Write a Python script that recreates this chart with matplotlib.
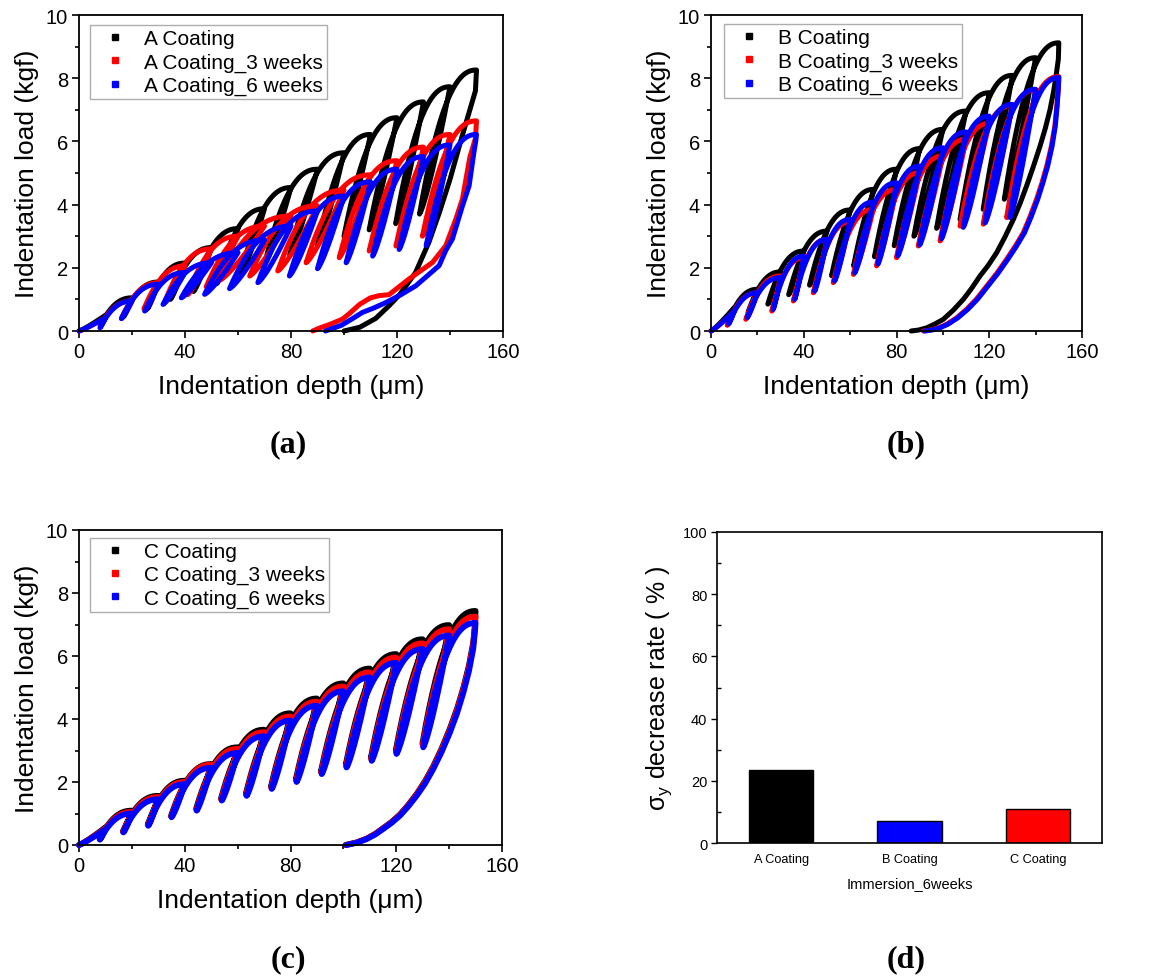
import numpy as np
import matplotlib
matplotlib.use("Agg")
import matplotlib.pyplot as plt
from matplotlib.lines import Line2D
from matplotlib.ticker import MultipleLocator

plt.rcParams['font.family'] = ['Liberation Sans', 'DejaVu Sans']

# ---------------- data ----------------
PEAK_DEPTH = [10, 20, 30, 40, 50, 60, 70, 80, 90, 100, 110, 120, 130, 140, 150]

# Panel (a)
A0_PEAK = [0.50, 1.05, 1.55, 2.15, 2.64, 3.24, 3.87, 4.54, 5.12, 5.64, 6.22, 6.75, 7.25, 7.73, 8.26]
A0_BOT_H = [8.2, 16.8, 25.8, 34.5, 43.2, 52.0, 61.0, 70.0, 79.5, 90.0, 100.0, 109.5, 119.5, 128.5]
A0_BOT_P = [0.20, 0.45, 0.70, 1.00, 1.25, 1.50, 1.80, 2.10, 2.40, 2.70, 3.00, 3.20, 3.40, 3.70]
A0_FIN_H = [150, 149.6, 147.5, 144.0, 140.0, 136.0, 132.0, 127.0, 121.0, 117.0, 112.0, 106.0, 100.0]
A0_FIN_P = [8.26, 7.60, 7.00, 6.00, 4.80, 3.75, 2.80, 1.85, 1.15, 0.80, 0.40, 0.12, 0.0]

A3_PEAK = [0.42, 0.95, 1.53, 2.06, 2.60, 3.00, 3.32, 3.64, 3.96, 4.46, 4.94, 5.39, 5.82, 6.22, 6.65]
A3_BOT_H = [8.0, 16.0, 24.5, 32.5, 41.0, 48.0, 53.0, 64.4, 75.0, 85.7, 98.2, 109.5, 119.6, 129.6]
A3_BOT_P = [0.18, 0.40, 0.70, 0.95, 1.15, 1.40, 1.60, 1.74, 1.90, 2.16, 2.32, 2.53, 2.69, 3.00]
A3_FIN_H = [150, 149.6, 147.5, 144.7, 142.2, 138.4, 133.4, 128.0, 124.6, 120.0, 117.0, 113.3, 110.0, 106.0, 102.0, 99.5, 95.0, 91.0, 88.2]
A3_FIN_P = [6.65, 6.10, 5.50, 4.18, 3.54, 2.70, 2.17, 1.85, 1.65, 1.35, 1.15, 1.12, 1.05, 0.85, 0.55, 0.38, 0.22, 0.10, 0.0]

A6_PEAK = [0.42, 0.95, 1.48, 1.85, 2.16, 2.48, 2.88, 3.32, 3.80, 4.27, 4.72, 5.12, 5.52, 5.89, 6.22]
A6_BOT_H = [7.9, 16.0, 24.8, 31.7, 38.6, 47.4, 56.8, 67.5, 79.4, 90.0, 100.8, 110.8, 120.8, 131.0]
A6_BOT_P = [0.10, 0.39, 0.63, 0.84, 1.05, 1.16, 1.34, 1.53, 1.74, 1.97, 2.16, 2.37, 2.58, 2.70]
A6_FIN_H = [150, 149.7, 149.0, 147.2, 144.7, 140.9, 138.4, 135.9, 131.5, 127.1, 121.5, 115.8, 111.0, 107.0, 103.0, 99.0, 93.0]
A6_FIN_P = [6.22, 6.00, 5.64, 4.59, 3.96, 2.91, 2.55, 2.07, 1.75, 1.43, 1.15, 0.90, 0.72, 0.59, 0.38, 0.18, 0.0]

# Panel (b)
B0_PEAK = [0.74, 1.32, 1.87, 2.53, 3.16, 3.83, 4.48, 5.12, 5.77, 6.38, 6.96, 7.54, 8.09, 8.65, 9.12]
B0_BOT_H = [7.5, 16.0, 24.5, 33.5, 42.5, 52.0, 61.5, 70.5, 79.0, 87.5, 97.3, 107.4, 117.4, 126.5]
B0_BOT_P = [0.30, 0.60, 0.85, 1.15, 1.45, 1.75, 2.06, 2.35, 2.70, 3.00, 3.25, 3.53, 3.85, 4.17]
B0_FIN_H = [150, 149.8, 149.0, 147.8, 146.2, 144.2, 141.9, 139.0, 136.1, 133.3, 130.4, 126.8, 123.2, 119.6, 116.0, 112.4, 108.8, 104.5, 100.2, 96.5, 93.0, 89.5, 86.3]
B0_FIN_P = [9.12, 8.60, 8.17, 7.60, 7.00, 6.42, 5.85, 5.20, 4.59, 4.04, 3.53, 2.98, 2.48, 2.08, 1.74, 1.35, 1.00, 0.66, 0.37, 0.22, 0.10, 0.03, 0.0]

B3_PEAK = [0.63, 1.21, 1.74, 2.32, 2.90, 3.45, 3.85, 4.48, 5.01, 5.54, 6.07, 6.57, 7.14, 7.63, 8.05]
B3_BOT_H = [7.0, 15.0, 26.2, 35.5, 44.1, 52.7, 61.4, 71.4, 80.0, 89.4, 98.8, 107.4, 117.4, 127.5]
B3_BOT_P = [0.18, 0.37, 0.63, 0.95, 1.21, 1.53, 1.79, 2.06, 2.32, 2.69, 2.85, 3.32, 3.38, 3.59]
B3_FIN_H = [150, 149.8, 149.2, 148.3, 146.8, 144.8, 142.7, 140.4, 137.6, 134.7, 131.2, 127.5, 123.2, 118.9, 114.6, 110.3, 106.0, 101.6, 98.5, 96.0, 93.8, 91.6]
B3_FIN_P = [8.05, 7.70, 7.15, 6.49, 5.85, 5.22, 4.68, 4.17, 3.62, 3.11, 2.68, 2.27, 1.82, 1.42, 1.02, 0.69, 0.42, 0.21, 0.11, 0.05, 0.02, 0.0]

B6_PEAK = [0.63, 1.21, 1.69, 2.37, 2.90, 3.53, 4.08, 4.69, 5.22, 5.80, 6.30, 6.80, 7.17, 7.65, 8.02]
B6_BOT_H = [7.6, 15.6, 26.8, 36.1, 44.7, 53.3, 62.0, 72.0, 80.6, 90.0, 99.4, 108.8, 118.2, 128.9]
B6_BOT_P = [0.22, 0.42, 0.68, 1.00, 1.26, 1.58, 1.84, 2.12, 2.38, 2.72, 2.92, 3.28, 3.42, 3.59]
B6_FIN_H = [150, 149.8, 149.3, 148.5, 147.1, 145.2, 143.1, 140.9, 138.1, 135.2, 131.7, 128.0, 123.7, 119.4, 115.1, 110.8, 106.5, 102.1, 99.0, 96.5, 94.3, 92.1]
B6_FIN_P = [8.02, 7.70, 7.15, 6.49, 5.85, 5.22, 4.68, 4.17, 3.62, 3.11, 2.68, 2.27, 1.82, 1.42, 1.02, 0.69, 0.42, 0.21, 0.11, 0.05, 0.02, 0.0]

# Panel (c)
C0_PEAK = [0.56, 1.09, 1.56, 2.04, 2.57, 3.10, 3.66, 4.18, 4.65, 5.13, 5.60, 6.06, 6.53, 6.98, 7.43]
C0_BOT_H = [7.8, 16.6, 26.0, 34.8, 44.3, 53.7, 63.1, 72.6, 82.0, 91.5, 100.9, 110.4, 119.8, 129.9]
C0_BOT_P = [0.19, 0.43, 0.65, 0.92, 1.15, 1.47, 1.62, 1.85, 2.08, 2.33, 2.55, 2.77, 2.99, 3.22]
C0_FIN_H = [150, 149.8, 149.1, 147.5, 145.4, 143.0, 140.3, 137.2, 134.0, 130.9, 127.7, 124.5, 121.4, 118.2, 115.1, 112.0, 108.8, 105.0, 100.8]
C0_FIN_P = [7.43, 7.05, 6.42, 5.70, 5.00, 4.33, 3.70, 3.07, 2.50, 2.03, 1.62, 1.27, 0.97, 0.73, 0.54, 0.35, 0.20, 0.08, 0.0]

C3_PEAK = [0.53, 1.05, 1.52, 2.00, 2.55, 3.05, 3.58, 4.08, 4.55, 5.03, 5.48, 5.95, 6.40, 6.85, 7.25]
C3_BOT_H = [7.85, 16.7, 26.1, 34.9, 44.4, 53.8, 63.2, 72.7, 82.1, 91.6, 101.0, 110.5, 119.9, 130.0]
C3_BOT_P = [0.18, 0.42, 0.63, 0.90, 1.12, 1.44, 1.59, 1.81, 2.04, 2.29, 2.50, 2.72, 2.94, 3.16]
C3_FIN_H = [150, 149.8, 149.1, 147.5, 145.4, 143.0, 140.3, 137.2, 134.0, 130.9, 127.7, 124.5, 121.4, 118.2, 115.1, 112.0, 108.8, 105.0, 101.0]
C3_FIN_P = [7.25, 6.95, 6.35, 5.63, 4.95, 4.28, 3.65, 3.03, 2.47, 2.00, 1.60, 1.25, 0.96, 0.72, 0.53, 0.35, 0.20, 0.08, 0.0]

C6_PEAK = [0.50, 1.00, 1.45, 1.93, 2.45, 2.92, 3.45, 3.95, 4.42, 4.88, 5.32, 5.78, 6.22, 6.65, 7.05]
C6_BOT_H = [7.9, 16.8, 26.2, 35.0, 44.5, 54.0, 63.4, 72.9, 82.3, 91.8, 101.2, 110.7, 120.1, 130.2]
C6_BOT_P = [0.17, 0.40, 0.61, 0.88, 1.09, 1.41, 1.56, 1.78, 2.00, 2.25, 2.46, 2.67, 2.89, 3.10]
C6_FIN_H = [150, 149.8, 149.1, 147.5, 145.4, 143.0, 140.3, 137.2, 134.0, 130.9, 127.7, 124.5, 121.4, 118.2, 115.1, 112.0, 108.8, 105.0, 101.2]
C6_FIN_P = [7.05, 6.80, 6.22, 5.52, 4.84, 4.18, 3.57, 2.96, 2.41, 1.95, 1.56, 1.22, 0.93, 0.70, 0.51, 0.33, 0.19, 0.07, 0.0]

# Panel (d)
BAR_CATS = ['A Coating', 'B Coating', 'C Coating']
BAR_VALUES = [23.5, 7.2, 10.8]
BAR_COLORS = ['#000000', '#0000ff', '#ff0000']

SERIES_COLORS = ['#000000', '#ff0000', '#0000ff']


# ---------------- helpers ----------------
def cyclic_curve(peak_p, bot_h, bot_p, fin_h, fin_p):
    hs, ps = [0.0], [0.0]
    t = np.linspace(0, 1, 30)[1:]
    hs += list(PEAK_DEPTH[0] * t)
    ps += list(peak_p[0] * t ** 1.15)
    for i in range(len(PEAK_DEPTH) - 1):
        hp, pp = PEAK_DEPTH[i], peak_p[i]
        hb, pb = bot_h[i], bot_p[i]
        s = np.linspace(1, 0, 25)[1:]
        hs += list(hb + (hp - hb) * s)
        ps += list(pb + (pp - pb) * s ** 1.25)
        hn, pn = PEAK_DEPTH[i + 1], peak_p[i + 1]
        t = np.linspace(0, 1, 50)[1:]
        hs += list(hb + (hn - hb) * t)
        ps += list(pn - (pn - pb) * (1 - t) ** 2.3)
    hs += list(fin_h[1:])
    ps += list(fin_p[1:])
    return np.array(hs), np.array(ps)


def style_curve_axes(ax):
    ax.set_xlim(0, 160)
    ax.set_ylim(0, 10)
    ax.set_xticks([0, 40, 80, 120, 160])
    ax.xaxis.set_minor_locator(MultipleLocator(20))
    ax.set_yticks([0, 2, 4, 6, 8, 10])
    ax.yaxis.set_minor_locator(MultipleLocator(1))
    ax.tick_params(which='major', direction='out', length=5, width=1.2,
                   labelsize=14.5, pad=3)
    ax.tick_params(which='minor', direction='out', length=3, width=1.2)
    for sp in ax.spines.values():
        sp.set_linewidth(1.3)
    ax.set_xlabel('Indentation depth (\u03bcm)', fontsize=19, labelpad=9)
    ax.set_ylabel('Indentation load (kgf)', fontsize=19, labelpad=5)


def draw_panel(ax, series, labels, lw, anchor):
    for (peak_p, bh, bp, fh, fp), c in zip(series, SERIES_COLORS):
        h, p = cyclic_curve(peak_p, bh, bp, fh, fp)
        ax.plot(h, p, color=c, lw=lw, solid_joinstyle='round',
                solid_capstyle='round', clip_on=False)
    style_curve_axes(ax)
    handles = [Line2D([], [], ls='none', marker='s', ms=4, color=c)
               for c in SERIES_COLORS]
    leg = ax.legend(handles, labels, loc='upper left', fontsize=15,
                    frameon=True, fancybox=False, borderpad=0.2,
                    labelspacing=0.2, handlelength=2.0, handletextpad=0.4,
                    borderaxespad=0.0, bbox_to_anchor=anchor)
    leg.get_frame().set_edgecolor('#999999')
    leg.get_frame().set_linewidth(1.0)


fig = plt.figure(figsize=(11.76, 9.78), dpi=100)
W, H = 1176.0, 978.0


def add_ax(l, r, t, b):
    return fig.add_axes([l / W, 1 - b / H, (r - l) / W, (b - t) / H])


ax_a = add_ax(79, 503, 16, 332)
ax_b = add_ax(711, 1082, 16, 332)
ax_c = add_ax(79, 502, 531, 846)
ax_d = add_ax(717, 1102, 533, 844)

draw_panel(ax_a, [(A0_PEAK, A0_BOT_H, A0_BOT_P, A0_FIN_H, A0_FIN_P),
                  (A3_PEAK, A3_BOT_H, A3_BOT_P, A3_FIN_H, A3_FIN_P),
                  (A6_PEAK, A6_BOT_H, A6_BOT_P, A6_FIN_H, A6_FIN_P)],
           ['A Coating', 'A Coating_3 weeks', 'A Coating_6 weeks'], 3.6,
           (0.026, 0.968))
draw_panel(ax_b, [(B0_PEAK, B0_BOT_H, B0_BOT_P, B0_FIN_H, B0_FIN_P),
                  (B3_PEAK, B3_BOT_H, B3_BOT_P, B3_FIN_H, B3_FIN_P),
                  (B6_PEAK, B6_BOT_H, B6_BOT_P, B6_FIN_H, B6_FIN_P)],
           ['B Coating', 'B Coating_3 weeks', 'B Coating_6 weeks'], 3.6,
           (0.035, 0.971))
draw_panel(ax_c, [(C0_PEAK, C0_BOT_H, C0_BOT_P, C0_FIN_H, C0_FIN_P),
                  (C3_PEAK, C3_BOT_H, C3_BOT_P, C3_FIN_H, C3_FIN_P),
                  (C6_PEAK, C6_BOT_H, C6_BOT_P, C6_FIN_H, C6_FIN_P)],
           ['C Coating', 'C Coating_3 weeks', 'C Coating_6 weeks'], 4.2,
           (0.026, 0.975))

# Panel (d) bars
xpos = np.arange(1, len(BAR_CATS) + 1)
ax_d.bar(xpos, BAR_VALUES, width=0.5, color=BAR_COLORS, edgecolor='black',
         linewidth=1.0)
ax_d.set_xlim(0.5, 3.5)
ax_d.set_ylim(0, 100)
ax_d.set_xticks(xpos)
ax_d.set_xticklabels(BAR_CATS)
ax_d.set_yticks(np.arange(0, 101, 20))
ax_d.yaxis.set_minor_locator(MultipleLocator(10))
ax_d.tick_params(axis='x', length=0, labelsize=9.2, pad=7)
ax_d.tick_params(axis='y', which='major', direction='out', length=4,
                 width=1.0, labelsize=10.5, pad=3)
ax_d.tick_params(axis='y', which='minor', direction='in', length=3, width=1.0)
for sp in ax_d.spines.values():
    sp.set_linewidth(1.2)
ax_d.set_xlabel('Immersion_6weeks', fontsize=10.5, labelpad=8)
ax_d.set_ylabel(r'$\mathregular{\sigma_y}$ decrease rate ( % )', fontsize=18,
                labelpad=6)

# Panel letters
for x, y, s in [(288, 445, '(a)'), (906, 445, '(b)'),
                (288, 960, '(c)'), (906, 960, '(d)')]:
    fig.text(x / W, 1 - y / H, s, ha='center', va='center', fontsize=23,
             fontweight='bold', family='Liberation Serif')

fig.savefig('out.png', dpi=100)
